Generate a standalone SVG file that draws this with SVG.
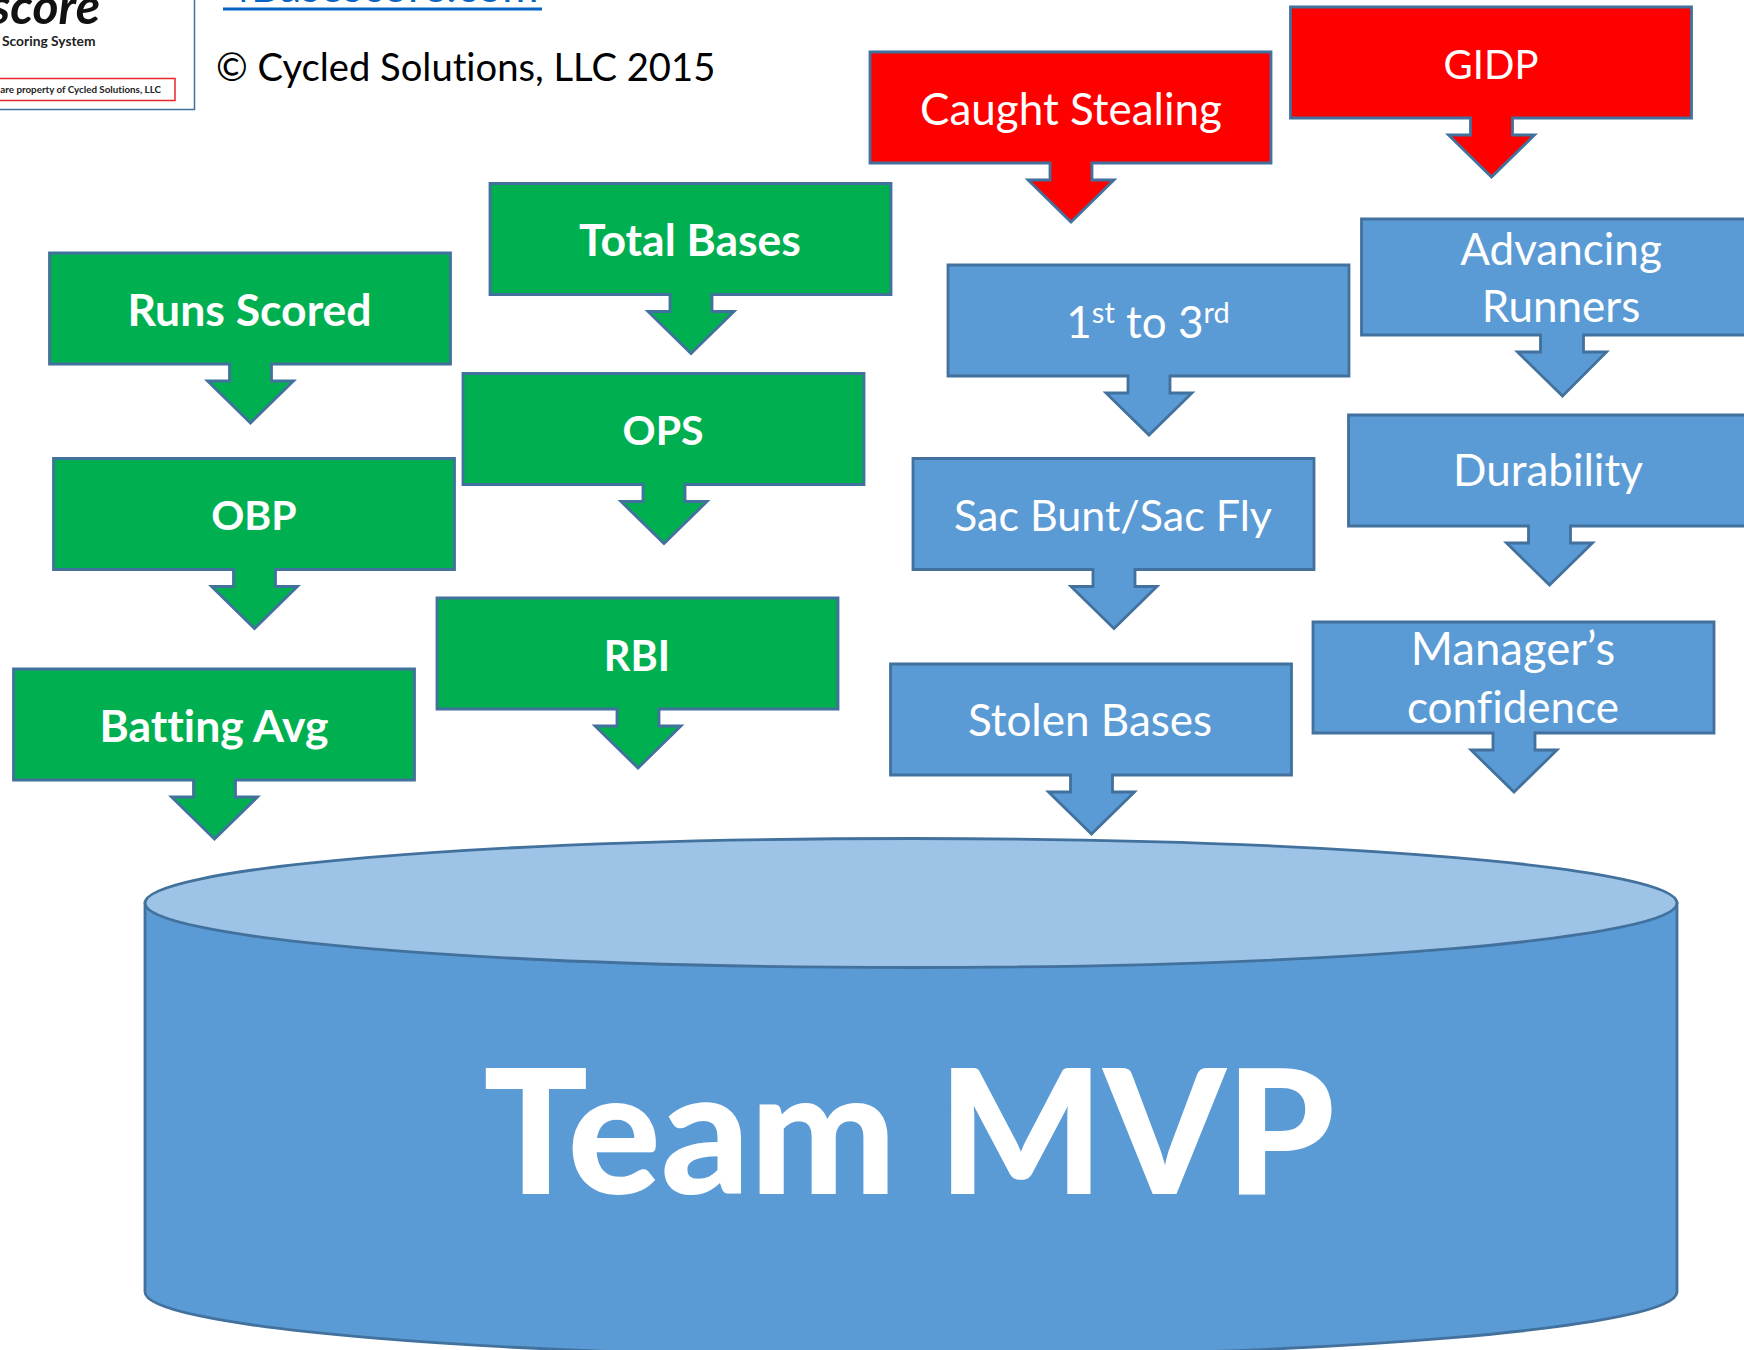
<svg xmlns="http://www.w3.org/2000/svg" width="1744" height="1350" viewBox="0 0 1744 1350">
<style>
text{font-family:Lato,"Liberation Sans",sans-serif;font-variant-ligatures:none}
.g{fill:#00b050}.b{fill:#5b9bd5}.r{fill:#ff0000}
.s{stroke:#41719c;stroke-width:2.800;stroke-linejoin:miter}
.t{fill:#fff;font-size:44px;text-anchor:middle}
.tb{fill:#fff;font-size:44.500px;font-weight:700;text-anchor:middle}
.sup{font-size:29px}
</style>
<defs>
<path id="callout" d="M0 0H401V111H222V128H244L201 170L158 128H180V111H0Z"/>
<path id="calloutTall" d="M0 0H401V116H222V133H245L201 177L156 133H179V116H0Z"/>
</defs>
<rect width="1744" height="1350" fill="#fff"/>
<g id="logo">
<path d="M194.500 0V109.500H0" fill="none" stroke="#41719c" stroke-width="1.500"/>
<rect x="-4" y="78.500" width="179" height="22" fill="#fff" stroke="#e8262a" stroke-width="1.500"/>
<text x="100" y="24" text-anchor="end" font-size="50" font-weight="700" font-style="italic" fill="#111">score</text>
<text x="2" y="46" font-size="13.800" font-weight="700" fill="#222">Scoring System</text>
<text x="161" y="93" text-anchor="end" font-size="9.800" font-weight="700" fill="#222">are property of Cycled Solutions, LLC</text>
</g>
<g id="link">
<text x="382" y="2" text-anchor="middle" font-size="44" fill="#0563c1">4Basescore.com</text>
<rect x="223" y="7.500" width="319" height="3" fill="#0563c1"/>
</g>
<text id="copyright" x="216" y="81" font-size="38.200" fill="#000">© Cycled Solutions, LLC 2015</text>
<g id="runs-scored"><use href="#callout" x="49.500" y="253" class="g s"/><text x="249.500" y="326" class="tb">Runs Scored</text></g>
<g id="total-bases"><use href="#callout" x="490" y="183.500" class="g s"/><text x="690" y="256" class="tb">Total Bases</text></g>
<g id="ops"><use href="#callout" x="463" y="373.500" class="g s"/><text x="663" y="445" class="tb" style="font-size:41px">OPS</text></g>
<g id="obp"><use href="#callout" x="53.500" y="458.500" class="g s"/><text x="254" y="530" class="tb" style="font-size:41px">OBP</text></g>
<g id="rbi"><use href="#callout" x="437" y="598" class="g s"/><text x="637" y="671" class="tb" style="font-size:41.500px">RBI</text></g>
<g id="batting-avg"><use href="#callout" x="13.500" y="669" class="g s"/><text x="214" y="742" class="tb">Batting Avg</text></g>
<g id="caught-stealing"><use href="#callout" x="870" y="52" class="r s"/><text x="1071" y="125" class="t">Caught Stealing</text></g>
<g id="gidp"><use href="#callout" x="1290.500" y="7" class="r s"/><text x="1491" y="79" class="t" style="font-size:40px">GIDP</text></g>
<g id="first-to-third"><use href="#callout" x="948" y="265" class="b s"/><text x="1148" y="338" class="t">1<tspan class="sup" dy="-15">st</tspan><tspan dy="15"> to 3</tspan><tspan class="sup" dy="-15">rd</tspan></text></g>
<g id="advancing-runners"><use href="#calloutTall" x="1361.500" y="219" class="b s"/><text x="1561" y="265" class="t">Advancing</text><text x="1561" y="322" class="t">Runners</text></g>
<g id="durability"><use href="#callout" x="1348.500" y="415" class="b s"/><text x="1548" y="486" class="t">Durability</text></g>
<g id="sac-bunt"><use href="#callout" x="913" y="458.500" class="b s"/><text x="1113" y="531" class="t" style="font-size:43px">Sac Bunt/Sac Fly</text></g>
<g id="stolen-bases"><use href="#callout" x="890.500" y="664" class="b s"/><text x="1090" y="736" class="t">Stolen Bases</text></g>
<g id="managers-confidence"><use href="#callout" x="1313" y="622" class="b s"/><text x="1513" y="665" class="t" style="font-size:45.500px">Manager’s</text><text x="1513" y="723" class="t">confidence</text></g>
<g id="team-mvp">
<path class="b s" d="M145 903V1292A766 64.500 0 0 0 1677 1292V903Z"/>
<ellipse class="s" cx="911" cy="903" rx="766" ry="64.500" fill="#9dc3e6"/>
<text x="909" y="1194" text-anchor="middle" font-size="174" font-weight="900" fill="#fff">Team MVP</text>
</g>
</svg>
